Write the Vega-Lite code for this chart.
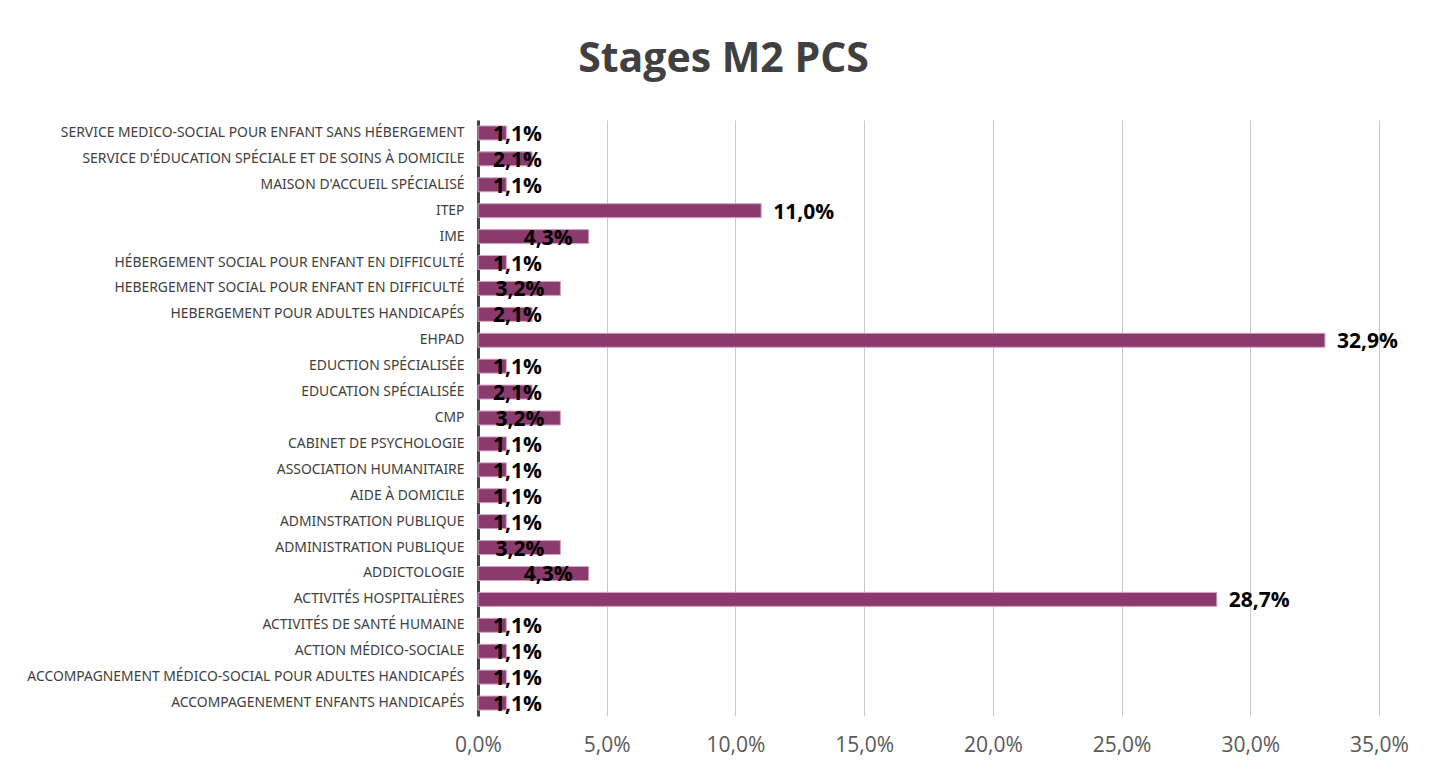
{
  "$schema": "https://vega.github.io/schema/vega-lite/v6.json",
  "autosize": "none",
  "width": 901,
  "height": 596,
  "padding": {"left": 478, "top": 120, "right": 64, "bottom": 57},
  "background": "white",
  "config": {
    "view": {"stroke": null},
    "locale": {"number": {"decimal": ",", "thousands": " ", "grouping": [3], "currency": ["", " €"]}}
  },
  "title": {
    "text": "Stages M2 PCS",
    "font": "Open Sans",
    "fontSize": 41,
    "fontWeight": "bold",
    "color": "#404040",
    "anchor": "middle",
    "dx": -205,
    "dy": 40,
    "offset": 38,
    "baseline": "bottom"
  },
  "data": {
    "values": [
      {"category": "SERVICE MEDICO-SOCIAL POUR ENFANT SANS HÉBERGEMENT", "value": 0.011},
      {"category": "SERVICE D'ÉDUCATION SPÉCIALE ET DE SOINS À DOMICILE", "value": 0.021},
      {"category": "MAISON D'ACCUEIL SPÉCIALISÉ", "value": 0.011},
      {"category": "ITEP", "value": 0.110},
      {"category": "IME", "value": 0.043},
      {"category": "HÉBERGEMENT SOCIAL POUR ENFANT EN DIFFICULTÉ", "value": 0.011},
      {"category": "HEBERGEMENT SOCIAL POUR ENFANT EN DIFFICULTÉ", "value": 0.032},
      {"category": "HEBERGEMENT POUR ADULTES HANDICAPÉS", "value": 0.021},
      {"category": "EHPAD", "value": 0.329},
      {"category": "EDUCTION SPÉCIALISÉE", "value": 0.011},
      {"category": "EDUCATION SPÉCIALISÉE", "value": 0.021},
      {"category": "CMP", "value": 0.032},
      {"category": "CABINET DE PSYCHOLOGIE", "value": 0.011},
      {"category": "ASSOCIATION HUMANITAIRE", "value": 0.011},
      {"category": "AIDE À DOMICILE", "value": 0.011},
      {"category": "ADMINSTRATION PUBLIQUE", "value": 0.011},
      {"category": "ADMINISTRATION PUBLIQUE", "value": 0.032},
      {"category": "ADDICTOLOGIE", "value": 0.043},
      {"category": "ACTIVITÉS HOSPITALIÈRES", "value": 0.287},
      {"category": "ACTIVITÉS DE SANTÉ HUMAINE", "value": 0.011},
      {"category": "ACTION MÉDICO-SOCIALE", "value": 0.011},
      {"category": "ACCOMPAGNEMENT MÉDICO-SOCIAL POUR ADULTES HANDICAPÉS", "value": 0.011},
      {"category": "ACCOMPAGENEMENT ENFANTS HANDICAPÉS", "value": 0.011}
    ]
  },
  "encoding": {
    "y": {
      "field": "category",
      "type": "nominal",
      "sort": null,
      "scale": {"paddingInner": 0.46, "paddingOuter": 0.23},
      "axis": {
        "title": null,
        "ticks": false,
        "domain": true,
        "domainColor": "#404040",
        "domainWidth": 3,
        "labelFont": "Noto Sans",
        "labelFontSize": 13.9,
        "labelColor": "#404040",
        "labelPadding": 14,
        "labelLimit": 500,
        "grid": false
      }
    }
  },
  "layer": [
    {
      "mark": {"type": "bar", "color": "#8B3A6E", "stroke": "#D2A3C2", "strokeWidth": 1},
      "encoding": {
        "x": {
          "field": "value",
          "type": "quantitative",
          "scale": {"domain": [0, 0.35], "nice": false},
          "axis": {
            "title": null,
            "format": ".1%",
            "values": [0, 0.05, 0.1, 0.15, 0.2, 0.25, 0.3, 0.35],
            "domain": false,
            "ticks": false,
            "grid": true,
            "gridColor": "#C8C8C8",
            "gridWidth": 1,
            "labelFlush": false,
            "labelFont": "Open Sans",
            "labelFontSize": 21,
            "labelColor": "#595959",
            "labelPadding": 18
          }
        }
      }
    },
    {
      "transform": [{"filter": "datum.value >= 0.1"}],
      "mark": {"type": "text", "align": "left", "baseline": "middle", "dx": 12, "dy": 2, "font": "Open Sans", "fontSize": 21, "fontWeight": "bold", "color": "#000000"},
      "encoding": {
        "x": {"field": "value", "type": "quantitative"},
        "text": {"field": "value", "type": "quantitative", "format": ".1%"}
      }
    },
    {
      "transform": [
        {"filter": "datum.value < 0.1"},
        {"calculate": "max(datum.value, 0.031)", "as": "labelPos"}
      ],
      "mark": {"type": "text", "align": "right", "baseline": "middle", "dx": -16, "dy": 2, "font": "Open Sans", "fontSize": 21, "fontWeight": "bold", "color": "#000000"},
      "encoding": {
        "x": {"field": "labelPos", "type": "quantitative"},
        "text": {"field": "value", "type": "quantitative", "format": ".1%"}
      }
    }
  ]
}
